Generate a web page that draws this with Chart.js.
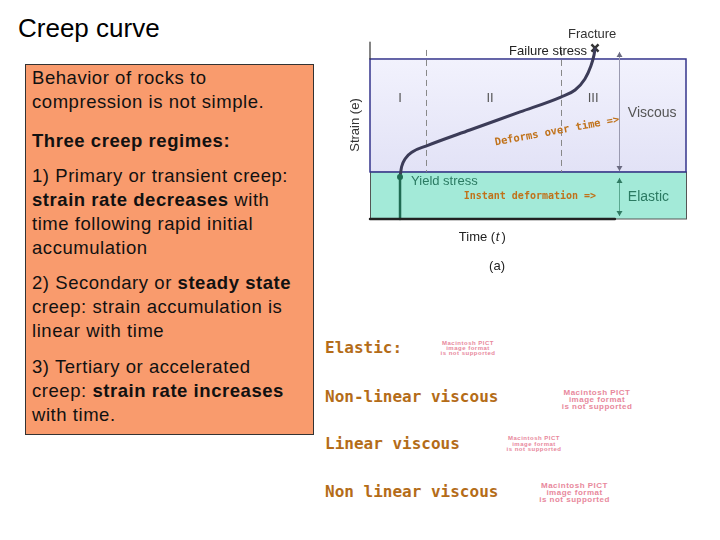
<!DOCTYPE html>
<html>
<head>
<meta charset="utf-8">
<script src="https://cdn.jsdelivr.net/npm/chart.js@4.4.0/dist/chart.umd.min.js"></script>
<style>
  body { margin: 0; background: #fff; }
  #page { position: relative; width: 720px; height: 540px; overflow: hidden; font-family: "Liberation Sans", Arial, sans-serif; }
  #creep { position: absolute; left: 0; top: 0; }
  .title { position: absolute; left: 18px; top: 13px; font-size: 26px; color: #000; }
  .box { position: absolute; left: 25px; top: 64px; width: 287px; height: 369px; background: #f99b6d; border: 1px solid #333; }
  .para { position: absolute; left: 32px; font-size: 18.5px; letter-spacing: 0.55px; line-height: 24px; color: #111; width: 274px; }
  .lbl { position: absolute; left: 325px; font-family: "DejaVu Sans Mono", monospace; font-weight: bold; font-size: 16px; color: #b46c18; }
  .pict { position: absolute; font-weight: bold; color: #e8889c; text-align: center; letter-spacing: 0.5px; }
</style>
</head>
<body>
<div id="page">
  <div class="title">Creep curve</div>
  <div class="box"></div>
  <div class="para" style="top:66px">Behavior of rocks to compression is not simple.</div>
  <div class="para" style="top:129px"><b>Three creep regimes:</b></div>
  <div class="para" style="top:164px">1) Primary or transient creep: <b>strain rate decreases</b> with time following rapid initial accumulation</div>
  <div class="para" style="top:271px">2) Secondary or <b>steady state</b> creep: strain accumulation is linear with time</div>
  <div class="para" style="top:355px">3) Tertiary or accelerated creep: <b>strain rate increases</b> with time.</div>

  <div class="lbl" style="top:338px">Elastic:</div>
  <div class="lbl" style="top:387px">Non-linear viscous</div>
  <div class="lbl" style="top:434px">Linear viscous</div>
  <div class="lbl" style="top:482px">Non linear viscous</div>

  <div class="pict" style="left:426px;top:341px;width:84px;font-size:6px;line-height:5px">Macintosh PICT<br>image format<br>is not supported</div>
  <div class="pict" style="left:540px;top:389px;width:114px;font-size:8px;line-height:7px">Macintosh PICT<br>image format<br>is not supported</div>
  <div class="pict" style="left:496px;top:436px;width:76px;font-size:6px;line-height:5.5px">Macintosh PICT<br>image format<br>is not supported</div>
  <div class="pict" style="left:517px;top:482px;width:115px;font-size:8px;line-height:7px">Macintosh PICT<br>image format<br>is not supported</div>

  <canvas id="creep" width="720" height="540"></canvas>
</div>
<script>
// creep curve, time and strain in % of the plotted range
const instantTime = [9.5, 9.5];
const instantStrain = [0, 23.7];
const creepTime = [9.5, 10.0, 11.2, 13.5, 17.7, 31.6, 47.5, 60.4, 64.9, 68.0, 69.9, 70.9, 71.2];
const creepStrain = [23.7, 29.5, 34.2, 38.0, 41.2, 50.3, 60.5, 68.9, 72.9, 79.1, 86.4, 92.7, 96.0];
const fracturePoint = [71.2, 96.6];
const elasticRange = [0, 26.6];
const viscousRange = [26.6, 90.4];
const stageBounds = [17.7, 60.4];
const stageLabels = ['I', 'II', 'III'];
const stageCenters = [9.5, 38, 70.6];
const timeAxisEnd = 77.5;

function pts(xs, ys) {
    return xs.map(function (x, i) { return { x: x, y: ys[i] }; });
}

function arrowHead(ctx, x, y, dir) {
    ctx.beginPath();
    ctx.moveTo(x, y);
    ctx.lineTo(x - 3, y - 5 * dir);
    ctx.lineTo(x + 3, y - 5 * dir);
    ctx.closePath();
    ctx.fill();
}

const regions = {
    id: 'regions',
    beforeDatasetsDraw: function (chart) {
        let ctx = chart.ctx, xs = chart.scales.x, ys = chart.scales.y;
        let x0 = xs.getPixelForValue(0), x1 = xs.getPixelForValue(100);
        let e0 = ys.getPixelForValue(elasticRange[0]), e1 = ys.getPixelForValue(elasticRange[1]);
        let v0 = ys.getPixelForValue(viscousRange[0]), v1 = ys.getPixelForValue(viscousRange[1]);
        ctx.save();
        ctx.fillStyle = '#a3ead8';
        ctx.fillRect(x0, e1, x1 - x0, e0 - e1);
        ctx.strokeStyle = '#555';
        ctx.lineWidth = 1;
        ctx.strokeRect(x0 + 0.5, e1, x1 - x0, e0 - e1);
        let g = ctx.createLinearGradient(0, v1, 0, v0);
        g.addColorStop(0, '#f2f2fd');
        g.addColorStop(1, '#e2e2f6');
        ctx.fillStyle = g;
        ctx.fillRect(x0, v1, x1 - x0, v0 - v1);
        ctx.strokeStyle = '#35358c';
        ctx.lineWidth = 1.5;
        ctx.strokeRect(x0, v1, x1 - x0, v0 - v1);
        // stage boundaries
        ctx.strokeStyle = '#888';
        ctx.lineWidth = 1;
        ctx.setLineDash([6, 4]);
        stageBounds.forEach(function (t) {
            let px = Math.round(xs.getPixelForValue(t)) + 0.5;
            ctx.beginPath();
            ctx.moveTo(px, ys.getPixelForValue(95.5));
            ctx.lineTo(px, v0);
            ctx.stroke();
        });
        ctx.setLineDash([]);
        // range arrows
        let ax = Math.round(xs.getPixelForValue(78.8)) + 0.5;
        ctx.strokeStyle = '#9a9ab0';
        ctx.fillStyle = '#6a6a80';
        ctx.beginPath();
        ctx.moveTo(ax, ys.getPixelForValue(94.4));
        ctx.lineTo(ax, ys.getPixelForValue(27.1));
        ctx.stroke();
        arrowHead(ctx, ax, ys.getPixelForValue(94.4), -1);
        arrowHead(ctx, ax, ys.getPixelForValue(27.1), 1);
        ctx.strokeStyle = '#5aa890';
        ctx.fillStyle = '#2f7a62';
        ctx.beginPath();
        ctx.moveTo(ax, ys.getPixelForValue(23.2));
        ctx.lineTo(ax, ys.getPixelForValue(1.7));
        ctx.stroke();
        arrowHead(ctx, ax, ys.getPixelForValue(23.2), -1);
        arrowHead(ctx, ax, ys.getPixelForValue(1.7), 1);
        ctx.restore();
    },
    afterDatasetsDraw: function (chart) {
        let ctx = chart.ctx, xs = chart.scales.x, ys = chart.scales.y;
        function txt(s, x, y, font, color, align) {
            ctx.font = font;
            ctx.fillStyle = color;
            ctx.textAlign = align || 'left';
            ctx.textBaseline = 'middle';
            ctx.fillText(s, xs.getPixelForValue(x), ys.getPixelForValue(y));
        }
        ctx.save();
        let sans = '"Liberation Sans", Arial, sans-serif';
        stageLabels.forEach(function (s, i) {
            txt(s, stageCenters[i], 68.4, '13px ' + sans, '#555', 'center');
        });
        txt('Fracture', 70.3, 104, '13px ' + sans, '#333', 'center');
        txt('Failure stress', 68.7, 94.4, '13px ' + sans, '#222', 'right');
        txt('Viscous', 81.6, 59.9, '14px ' + sans, '#555');
        txt('Elastic', 81.6, 12.4, '14px ' + sans, '#2b7a62');
        txt('Yield stress', 13.0, 21.5, '13px ' + sans, '#2b7a62');
        txt('Time (', 39.6, -10.2, '13px ' + sans, '#222', 'right');
        txt('t', 39.8, -10.2, 'italic 13px ' + sans, '#222');
        txt(')', 41.6, -10.2, '13px ' + sans, '#222');
        txt('(a)', 40.2, -26.6, '13px ' + sans, '#222', 'center');
        let mono = 'bold 10px "DejaVu Sans Mono", monospace';
        txt('Instant deformation =>', 50.6, 13.0, mono, '#c0721a', 'center');
        // rotated labels
        ctx.save();
        ctx.translate(xs.getPixelForValue(59.2), ys.getPixelForValue(49.6));
        ctx.rotate(-10.5 * Math.PI / 180);
        ctx.font = 'bold 10.5px "DejaVu Sans Mono", monospace';
        ctx.fillStyle = '#c0721a';
        ctx.textAlign = 'center';
        ctx.textBaseline = 'middle';
        ctx.fillText('Deforms over time =>', 0, 0);
        ctx.restore();
        ctx.save();
        ctx.translate(xs.getPixelForValue(-4.7), ys.getPixelForValue(53.1));
        ctx.rotate(-Math.PI / 2);
        ctx.font = '13px ' + sans;
        ctx.fillStyle = '#333';
        ctx.textAlign = 'center';
        ctx.textBaseline = 'middle';
        ctx.fillText('Strain (e)', 0, 0);
        ctx.restore();
        ctx.restore();
    }
};

document.addEventListener('DOMContentLoaded', function () {
    let ctx = document.getElementById('creep').getContext('2d');
    let chart = new Chart(ctx, {
        type: 'scatter',
        data: {
            datasets: [
                {
                    label: 'Time axis',
                    data: pts([0, timeAxisEnd], [0, 0]),
                    showLine: true, borderColor: '#222', borderWidth: 2.5, pointRadius: 0
                },
                {
                    label: 'Strain axis',
                    data: pts([0, 0], [viscousRange[1], 100]),
                    showLine: true, borderColor: '#333', borderWidth: 1.2, pointRadius: 0
                },
                {
                    label: 'Instant deformation',
                    data: pts(instantTime, instantStrain),
                    showLine: true, borderColor: '#1f6a52', borderWidth: 2.5,
                    pointRadius: [0, 3], pointBackgroundColor: '#1f6a52', pointBorderWidth: 0
                },
                {
                    label: 'Creep',
                    data: pts(creepTime, creepStrain),
                    showLine: true, borderColor: '#3c3c58', borderWidth: 3,
                    tension: 0.4, cubicInterpolationMode: 'monotone', pointRadius: 0
                },
                {
                    label: 'Fracture',
                    data: pts([fracturePoint[0]], [fracturePoint[1]]),
                    pointStyle: 'crossRot', pointRadius: 5, borderColor: '#333', borderWidth: 2.5
                }
            ]
        },
        options: {
            responsive: false,
            animation: false,
            layout: { padding: { left: 370, right: 34, top: 42, bottom: 321 } },
            plugins: { legend: { display: false }, tooltip: { enabled: false } },
            elements: { line: { borderCapStyle: 'round' } },
            datasets: { scatter: { clip: false } },
            scales: {
                x: { type: 'linear', min: 0, max: 100, display: false },
                y: { type: 'linear', min: 0, max: 100, display: false }
            }
        },
        plugins: [regions]
    });
});
</script>
</body>
</html>
